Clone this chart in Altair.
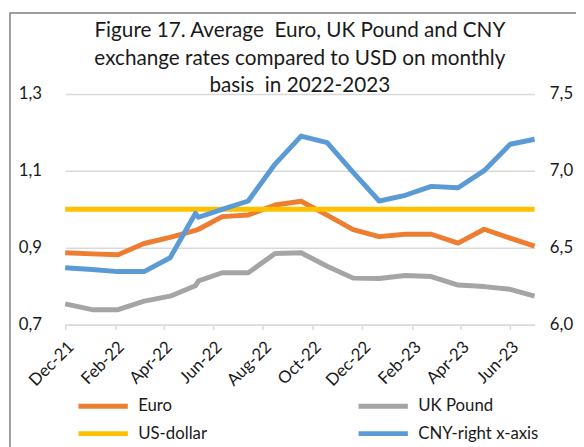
import altair as alt
import pandas as pd

# ---- data ----
dates = ["2021-12-01", "2022-01-03", "2022-02-04", "2022-03-08", "2022-04-09",
         "2022-05-10", "2022-05-14", "2022-06-12", "2022-07-14", "2022-08-16",
         "2022-09-17", "2022-10-19", "2022-11-20", "2022-12-22", "2023-01-23",
         "2023-02-24", "2023-03-29", "2023-04-30", "2023-06-01", "2023-07-01"]
euro = [0.887, 0.884, 0.882, 0.911, 0.927, 0.945, 0.948, 0.981, 0.985, 1.011,
        1.021, 0.985, 0.947, 0.929, 0.935, 0.935, 0.912, 0.948, 0.925, 0.904]
uk_pound = [0.754, 0.739, 0.739, 0.761, 0.774, 0.801, 0.814, 0.835, 0.835, 0.885,
            0.887, 0.852, 0.821, 0.820, 0.828, 0.825, 0.803, 0.799, 0.792, 0.774]
us_dollar = [1.0, 1.0, 1.0, 1.0, 1.0, 1.0, 1.0, 1.0, 1.0, 1.0,
             1.0, 1.0, 1.0, 1.0, 1.0, 1.0, 1.0, 1.0, 1.0, 1.0]
cny = [6.370, 6.359, 6.345, 6.345, 6.435, 6.723, 6.698, 6.749, 6.804, 7.044,
       7.226, 7.183, 6.990, 6.804, 6.841, 6.899, 6.890, 7.001, 7.173, 7.205]

series_names = ["Euro", "UK Pound", "US-dollar", "CNY-right x-axis"]
series_colors = ["#ED7D31", "#A5A5A5", "#FFC000", "#5B9BD5"]
left_ticks = [0.7, 0.9, 1.1, 1.3]
right_ticks = [6.0, 6.5, 7.0, 7.5]
tick_months = [(2021, 12), (2022, 2), (2022, 4), (2022, 6), (2022, 8), (2022, 10),
               (2022, 12), (2023, 2), (2023, 4), (2023, 6)]
title_lines = ["Figure 17. Average\u00a0 Euro, UK Pound and CNY",
               "exchange rates compared to USD on monthly",
               "basis\u00a0 in 2022-2023"]

rows = []
for name, vals in zip(series_names, [euro, uk_pound, us_dollar, cny]):
    for d, v in zip(dates, vals):
        rows.append({"date": d, "series": name, "value": v})
df = pd.DataFrame(rows)

FONT = "Lato"
TXT = "#1a1a1a"
GRID = "#d9d9d9"
comma_fmt = "replace(format(datum.value, '.1f'), '.', ',')"

x_enc = alt.X(
    "date:T",
    scale=alt.Scale(type="utc", domain=[alt.DateTime(year=2021, month=12, date=1, utc=True),
                                         alt.DateTime(year=2023, month=7, date=1, utc=True)]),
    axis=alt.Axis(values=[alt.DateTime(year=y, month=m, date=1, utc=True) for y, m in tick_months],
                  labelExpr="utcFormat(datum.value, '%b-%y')", labelAngle=-45,
                  labelOverlap=False, labelFlush=False,
                  title=None, grid=False, domainColor=GRID, domainWidth=1.5,
                  tickColor=GRID, tickWidth=1.5, tickSize=5, labelFontSize=17,
                  labelFont=FONT, labelColor=TXT, labelPadding=9),
)
y_left = alt.Y(
    "value:Q",
    scale=alt.Scale(domain=[0.7, 1.3], nice=False, zero=False),
    axis=alt.Axis(values=left_ticks, labelExpr=comma_fmt, title=None, domain=False,
                  ticks=False, grid=True, gridColor=GRID, gridWidth=1.5, labelPadding=24,
                  labelFontSize=17, labelFont=FONT, labelColor=TXT, orient="left"),
)
y_right = alt.Y(
    "value:Q",
    scale=alt.Scale(domain=[6.0, 7.5], nice=False, zero=False),
    axis=alt.Axis(values=right_ticks, labelExpr=comma_fmt, title=None, domain=False,
                  ticks=False, grid=False, labelPadding=15, labelFontSize=17,
                  labelFont=FONT, labelColor=TXT, orient="right"),
)
color_enc = alt.Color(
    "series:N",
    scale=alt.Scale(domain=series_names, range=series_colors),
    legend=alt.Legend(title=None, orient="none", legendX=26, legendY=304, columns=2,
                      direction="horizontal",
                      symbolType="M-2.5,0H2.5", symbolStrokeWidth=5, symbolSize=400,
                      labelFontSize=17, labelFont=FONT, labelColor=TXT, labelOffset=23,
                      columnPadding=143, rowPadding=5),
)

base = alt.Chart(df)


def series_line(name, y_enc):
    return base.transform_filter(alt.datum.series == name).mark_line(
        strokeWidth=5, strokeJoin="round").encode(x=x_enc, y=y_enc, color=color_enc)


left = alt.layer(series_line("Euro", y_left), series_line("UK Pound", y_left),
                 series_line("US-dollar", y_left))
right = series_line("CNY-right x-axis", y_right)

frame = alt.Chart(pd.DataFrame({"k": [0]})).mark_rect(
    fill=None, stroke="#7f7f7f", strokeWidth=1.5).encode(
    x=alt.value(-56), x2=alt.value(600), y=alt.value(-82), y2=alt.value(500))

chart = alt.layer(frame, left, right).resolve_scale(y="independent").properties(
    width=476, height=234,
    title=alt.TitleParams(text=title_lines, anchor="middle", fontSize=21, font=FONT,
                          fontWeight="normal", color=TXT, lineHeight=28, offset=-85),
    autosize=alt.AutoSizeParams(type="none"),
    padding={"left": 58, "top": 84, "right": 42, "bottom": 125},
).configure_view(stroke=None)

chart.save("out.html", embed_options={"renderer": "svg", "actions": False})
